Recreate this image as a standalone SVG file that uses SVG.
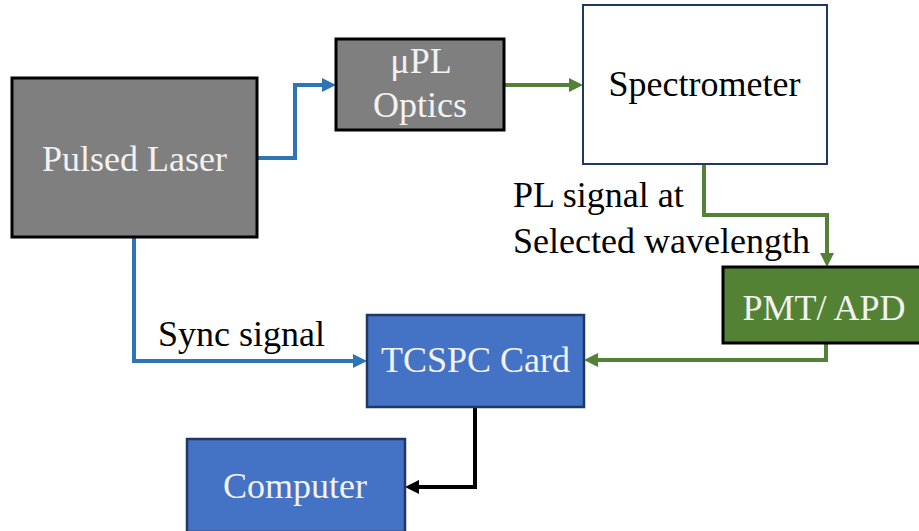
<svg xmlns="http://www.w3.org/2000/svg" width="919" height="531" viewBox="0 0 919 531" font-family="'Liberation Serif', Tinos, 'Times New Roman', 'DejaVu Serif', serif">
<style>
text{font-family:'Liberation Serif',Tinos,'Times New Roman','DejaVu Serif',serif;font-size:36px;text-anchor:middle}
.wt{fill:#f2f2f2}
.bk{fill:#000}
.lbl{text-anchor:start}
.gray{fill:#7f7f7f;stroke:#000;stroke-width:3}
.blue{fill:#4472c4;stroke:#203864;stroke-width:2.5}
.green{fill:#548235;stroke:#000;stroke-width:3}
.white{fill:#fff;stroke:#203864;stroke-width:2}
.c{fill:none;stroke-width:4;stroke-linejoin:miter}
.cb{stroke:#2e75b6}
.cg{stroke:#538135}
.ck{stroke:#000}
</style>
<defs>
<marker id="ab" markerUnits="userSpaceOnUse" markerWidth="14" markerHeight="14" viewBox="0 0 14 14" refX="4" refY="7" orient="auto"><path d="M0,0 L14,7 L0,14 z" fill="#2e75b6"/></marker>
<marker id="ag" markerUnits="userSpaceOnUse" markerWidth="14" markerHeight="14" viewBox="0 0 14 14" refX="4" refY="7" orient="auto"><path d="M0,0 L14,7 L0,14 z" fill="#538135"/></marker>
<marker id="ak" markerUnits="userSpaceOnUse" markerWidth="14" markerHeight="14" viewBox="0 0 14 14" refX="4" refY="7" orient="auto"><path d="M0,0 L14,7 L0,14 z" fill="#000"/></marker>
</defs>
<g id="connectors">
<path class="c cb" d="M257,158 H295 V85 H326" marker-end="url(#ab)"/>
<path class="c cg" d="M504,85 H573" marker-end="url(#ag)"/>
<path class="c cg" d="M704,164 V215 H827 V257" marker-end="url(#ag)"/>
<path class="c cg" d="M826,343 V360 H594" marker-end="url(#ag)"/>
<path class="c cb" d="M134,237 V361 H357" marker-end="url(#ab)"/>
<path class="c ck" d="M475,407 V487 H415" marker-end="url(#ak)"/>
</g>
<g id="pulsed-laser">
<rect class="gray" x="12" y="78" width="245" height="159"/>
<text class="wt" x="134.5" y="171">Pulsed Laser</text>
</g>
<g id="upl-optics">
<rect class="gray" x="336" y="39" width="168" height="91"/>
<text class="wt" x="421" y="73">μPL</text>
<text class="wt" x="420" y="117">Optics</text>
</g>
<g id="spectrometer">
<rect class="white" x="583" y="5" width="244" height="159"/>
<text class="bk" x="704.5" y="96">Spectrometer</text>
</g>
<g id="pmt-apd">
<rect class="green" x="723" y="267" width="203" height="76"/>
<text class="wt" x="824" y="320">PMT/ APD</text>
</g>
<g id="tcspc-card">
<rect class="blue" x="367" y="315" width="217" height="92"/>
<text class="wt" x="475.5" y="372">TCSPC Card</text>
</g>
<g id="computer">
<rect class="blue" x="187" y="439" width="218" height="93"/>
<text class="wt" x="295" y="498">Computer</text>
</g>
<g id="labels">
<text class="bk lbl" x="513" y="207">PL signal at</text>
<text class="bk lbl" x="513" y="253">Selected wavelength</text>
<text class="bk lbl" x="158" y="346">Sync signal</text>
</g>
</svg>
